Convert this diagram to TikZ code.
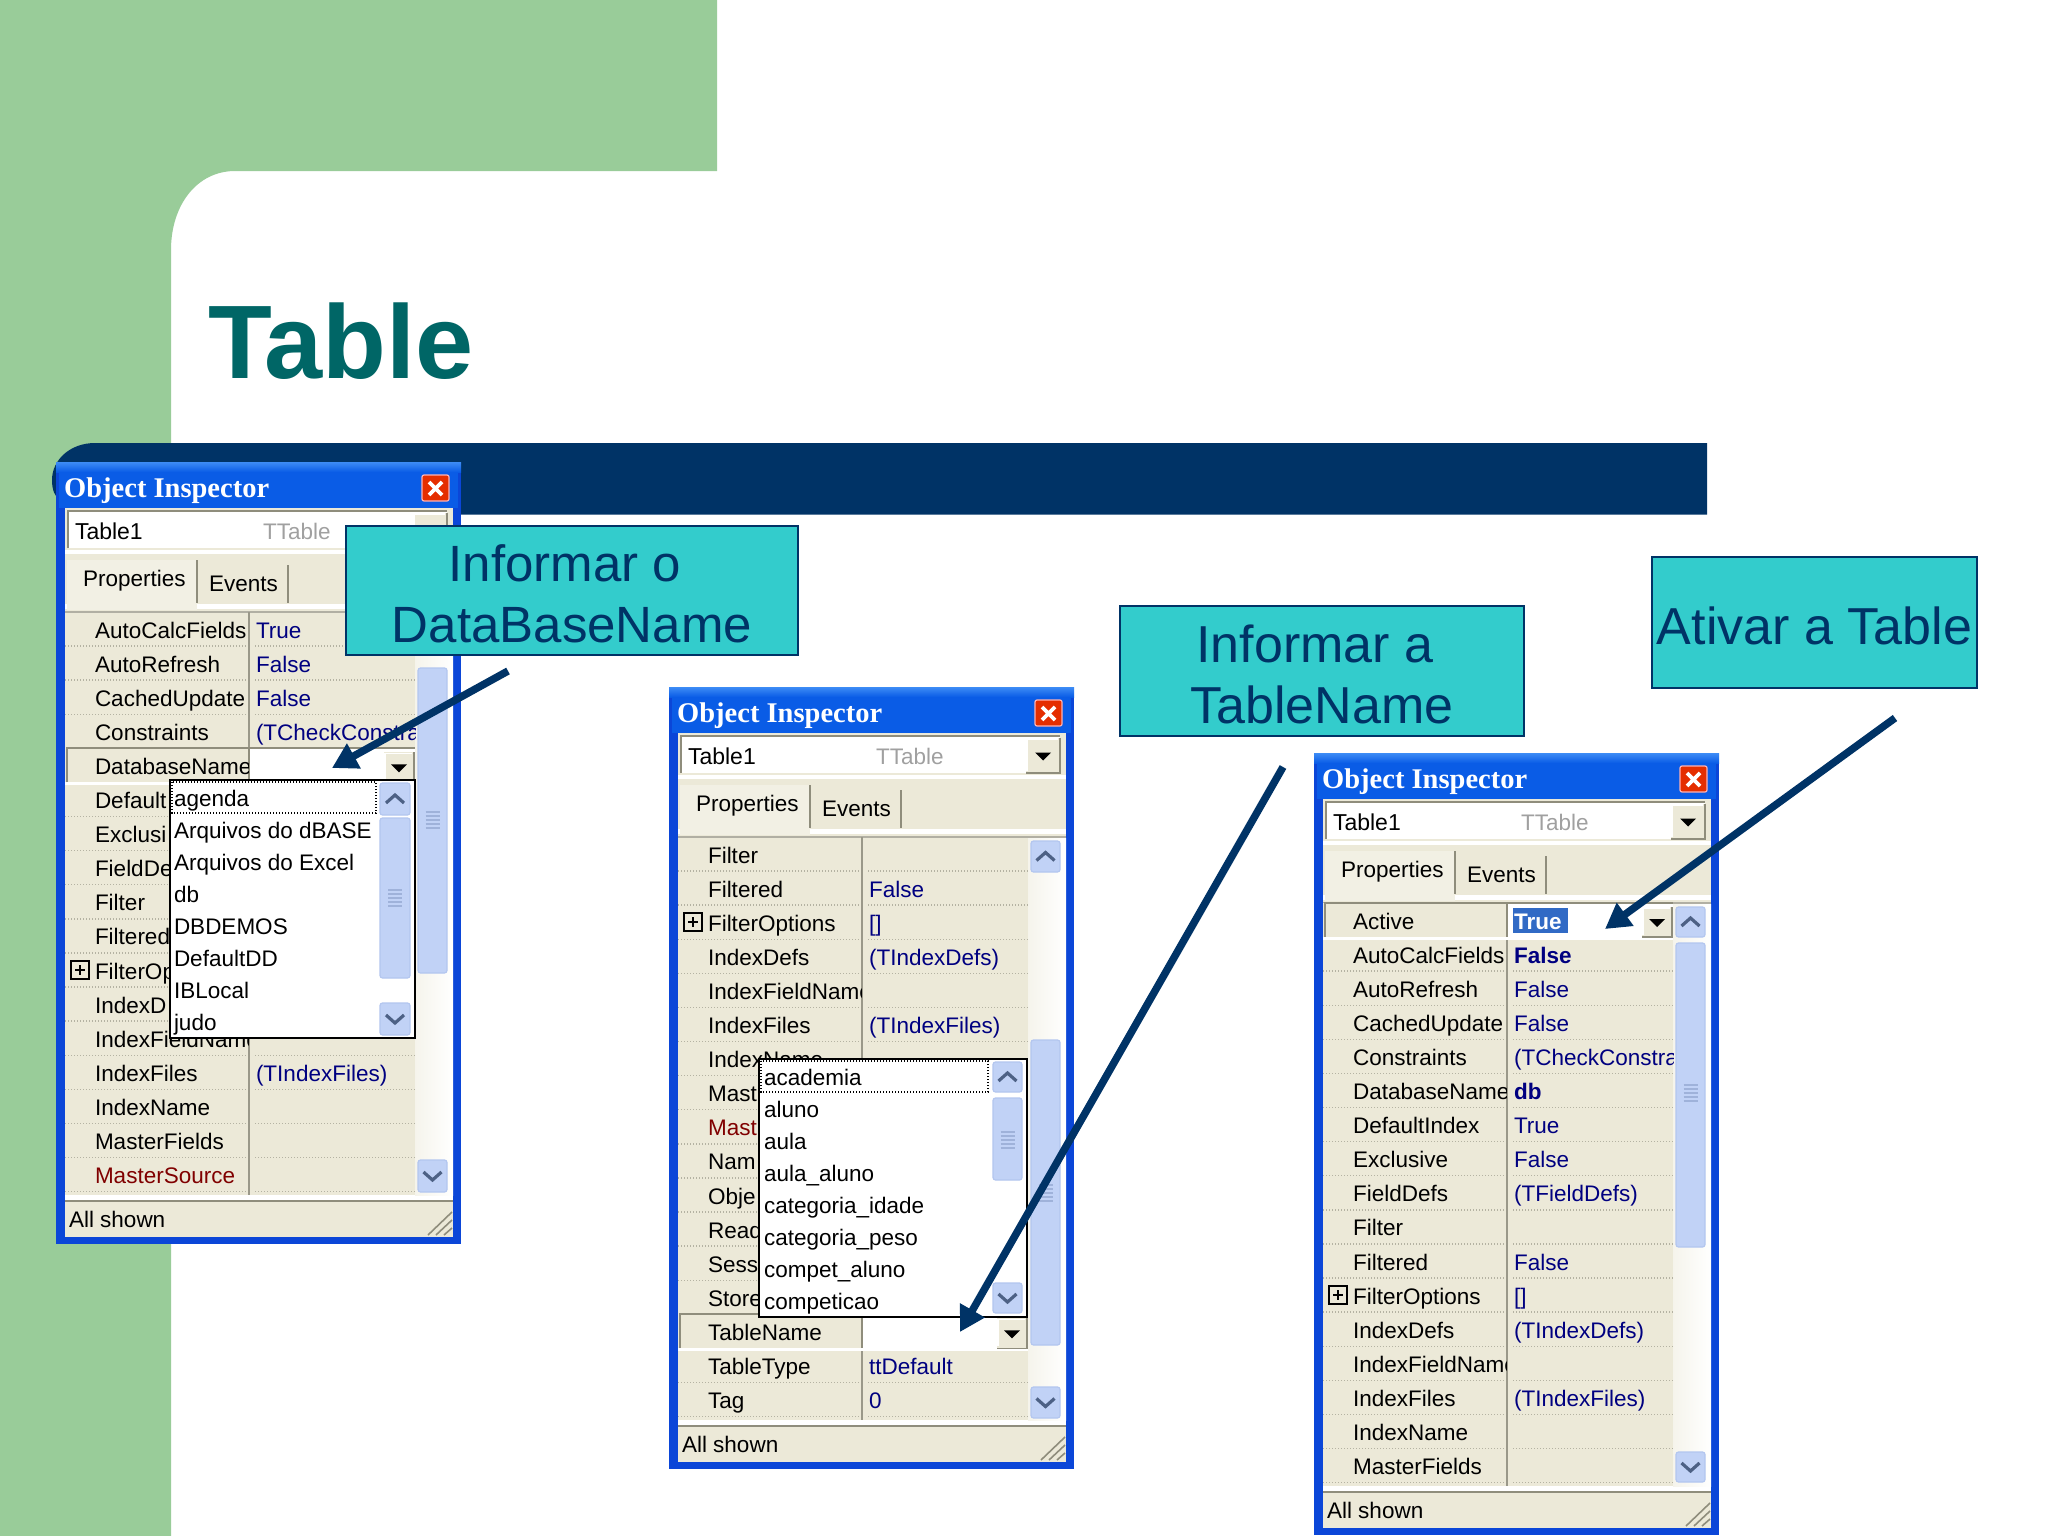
\documentclass[tikz,border=0pt]{standalone}
\usepackage{fontspec}
\setmainfont{Liberation Sans}
\newfontfamily\oiserif{Liberation Serif}
\usetikzlibrary{arrows.meta}
\definecolor{slidegreen}{HTML}{99CC99}
\definecolor{navybar}{HTML}{003366}
\definecolor{titleteal}{HTML}{006666}
\definecolor{calloutfill}{HTML}{33CCCC}
\definecolor{oibg}{HTML}{ECE9D8}
\definecolor{oiedge}{HTML}{0B46D8}
\definecolor{oidark}{HTML}{8F8D7C}
\definecolor{oidot}{HTML}{B4B2A2}
\definecolor{oival}{HTML}{000080}
\definecolor{oired}{HTML}{800000}
\definecolor{oigrey}{HTML}{A0A0A0}
\definecolor{oibtnfill}{HTML}{C1D2F6}
\definecolor{oibtnedge}{HTML}{B3C6EF}
\definecolor{oichev}{HTML}{4D6185}
\definecolor{oisel}{HTML}{316AC5}
\definecolor{oititlea}{HTML}{3D8CF5}
\definecolor{oititleb}{HTML}{0A5CE6}
\newcommand\oifont{\fontsize{22.5}{27}\selectfont}
\tikzset{
  lbl/.style={anchor=base west,inner sep=0pt,outer sep=0pt,font=\oifont},
  calloutbox/.style={draw=navybar,line width=2pt,fill=calloutfill,inner sep=0pt},
  callouttext/.style={text=navybar,align=center,inner sep=0pt,yshift=-3.3pt},
  pointer/.style={draw=navybar,line width=7.5pt,-{Triangle[length=25pt,width=27pt]}},
  dotrow/.style={oidot,line width=1.4pt,dash pattern=on 1.4pt off 1.6pt},
  dotbox/.style={black,line width=1.4pt,dash pattern=on 1.4pt off 1.6pt},
}
% button with chevron: x0 y0 x1 y1 sign
\newcommand\oibtn[5]{%
  \fill[oibtnfill,draw=oibtnedge,line width=1.2pt,rounded corners=2.5pt] (#1,#2) rectangle (#3,#4);
  \pgfmathsetmacro\cxx{(#1+#3)/2}\pgfmathsetmacro\cyy{(#2+#4)/2}%
  \draw[oichev,line width=3.2pt] (\cxx-9,\cyy+#5*4) -- (\cxx,\cyy-#5*4) -- (\cxx+9,\cyy+#5*4);
}
% thumb: x0 y0 x1 y1 grip-y
\newcommand\oithumb[5]{%
  \fill[oibtnfill,draw=oibtnedge,line width=1.2pt,rounded corners=2.5pt] (#1,#2) rectangle (#3,#4);
  \pgfmathsetmacro\cxx{(#1+#3)/2}%
  \foreach \g in {-8,-4,0,4,8}{\draw[oibtnedge!80!oichev,line width=1.2pt] (\cxx-7,#5+\g) -- (\cxx+7,#5+\g);}
}
% drop button: x0 y0 x1 y1
\newcommand\oidrop[4]{%
  \fill[oibg] (#1,#2) rectangle (#3,#4);
  \draw[oidark,line width=1.8pt] (#1,#4) -- (#3,#4) -- (#3,#2);
  \draw[white,line width=1.2pt] (#1+1,#4-2) -- (#1+1,#2+1) -- (#3-2,#2+1);
  \pgfmathsetmacro\cxx{(#1+#3)/2}\pgfmathsetmacro\cyy{(#2+#4)/2}%
  \fill[black] (\cxx-8,\cyy-3) -- (\cxx+8,\cyy-3) -- (\cxx,\cyy+5) -- cycle;
}
% window frame: prefix
\newcommand\oiframe[1]{%
  \fill[oiedge] (0,0) rectangle (405,782);
  \fill[oititleb] (3,8) rectangle (402,46);
  \shade[top color=oititlea,bottom color=oititleb] (0,0) rectangle (405,10);
  \fill[oibg] (9,46) rectangle (397,775);
  \node[anchor=base west,inner sep=0pt,text=white,font={\oiserif\bfseries\fontsize{28.5}{34}\selectfont}] (#1title) at (8,35) {Object Inspector};
  \fill[red!60!orange!90!black,draw=white!70!red,line width=1.2pt,rounded corners=2pt] (366,13) rectangle (393,39);
  \draw[white,line width=3.6pt] (373,20) -- (386,33) (386,20) -- (373,33);
  % edit box
  \fill[white] (12,49) rectangle (391,86);
  \draw[oidark,line width=2pt] (12,86) -- (12,49) -- (391,49);
  \node[lbl,font=\fontsize{23}{27}\selectfont] (#1obj) at (19,77) {Table1};
  \node[lbl,text=oigrey] (#1cls) at (207,77) {TTable};
  \oidrop{357}{51}{391}{86}
  % tabs
  \fill[white] (9,88) rectangle (397,92);
  \fill[white] (9,142) rectangle (397,147);
  \fill[oibg!70!white] (11,98) rectangle (141,148);
  \draw[oidark,line width=2.6pt] (141,98) -- (141,141);
  \draw[oidark,line width=2.6pt] (232,103) -- (232,141);
  \node[lbl] (#1tabp) at (27,124.5) {Properties};
  \node[lbl] (#1tabe) at (153,129) {Events};
  % grid
  \draw[oidark!70,line width=1.2pt] (9,150) -- (397,150);
  \foreach \r in {0,...,16}{%
    \draw[dotrow] (9,{184+34.1*\r}) -- (192,{184+34.1*\r});
    \draw[dotrow] (199,{184+34.1*\r}) -- (359,{184+34.1*\r});
  }
  \draw[oidark!90,line width=2pt] (193,150) -- (193,733);
  % status
  \fill[white] (9,733) rectangle (397,738);
  \draw[oidark,line width=1.6pt] (9,739) -- (397,739);
  \node[lbl] (#1stat) at (13,765) {All shown};
  \draw[oidark,line width=1.6pt] (372,773) -- (396,750) (380,773) -- (396,758) (388,773) -- (396,766);
  % track of the scroll bar
  \shade[left color=oibg!50!white,right color=white] (359,151) rectangle (397,733);
}
\newcommand\oinames[2]{%
  \begin{scope}
    \clip (9,150) rectangle (192,733);
    \foreach \nm [count=\i from 0] in {#2}{%
      \node[lbl] (#1n\i) at (39,{176+34.1*\i}) {\nm};
    }
  \end{scope}
}
\newcommand\oivals[2]{%
  \begin{scope}
    \clip (195,150) rectangle (359,733);
    \foreach \i/\v in {#2}{%
      \node[lbl,text=oival] (#1v\i) at (200,{176+34.1*\i}) {\v};
    }
  \end{scope}
}
\newcommand\oiplus[1]{%
  \pgfmathsetmacro\pcy{167+34.1*#1}%
  \draw[black,line width=1.8pt] (15,\pcy-9) rectangle (33,\pcy+9);
  \draw[black,line width=1.8pt] (19,\pcy) -- (29,\pcy) (24,\pcy-5) -- (24,\pcy+5);
}
\newcommand\oiselrow[1]{%
  \pgfmathsetmacro\sya{150+34.1*#1}\pgfmathsetmacro\syb{184+34.1*#1}%
  \fill[oibg] (9,\sya) rectangle (359,\syb);
  \fill[white] (194,\sya) rectangle (359,\syb);
  \fill[white] (9,\syb) rectangle (359,\syb+3);
  \draw[oidark,line width=2pt] (11,\syb) -- (11,\sya) -- (359,\sya);
  \draw[oidark,line width=1.6pt] (193,\sya) -- (193,\syb);
  \oidrop{328}{\sya+4}{358}{\syb}
}
\newcommand\oipop[4]{%
  \fill[white,draw=black,line width=2pt] (#1,#2) rectangle (#3,#4);
}
\newcommand\oiitems[4]{%
  \foreach \nm [count=\i from 0] in {#4}{%
    \node[lbl] (#1p\i) at (#2,{#3+32*\i}) {\nm};
  }
}
\begin{document}
\begin{tikzpicture}[x=1pt,y=-1pt]
\useasboundingbox (0,0) rectangle (2048,1536);
\fill[white] (0,0) rectangle (2048,1536);
% slide background
\fill[slidegreen] (0,0) -- (717,0) -- (717,171) -- (235,171) .. controls (197,171) and (171,205) .. (171,250) -- (171,1536) -- (0,1536) -- cycle;
\fill[navybar] (1707,443) -- (95,443) .. controls (70,443) and (52,460) .. (52,480) .. controls (52,490) and (55,497) .. (60,500) -- (60,514.5) -- (1707,514.5) -- cycle;
\node[anchor=base west,inner sep=0pt,text=titleteal,font={\bfseries\fontsize{104.5}{112}\selectfont}] (slidetitle) at (208,378) {Table};

% ---------- window 1
\begin{scope}[shift={(56,462)}]
  \oiframe{a}
  \oiselrow{4}
  \oinames{a}{AutoCalcFields,AutoRefresh,CachedUpdate,Constraints,DatabaseName,Default,Exclusi,FieldDe,Filter,Filtered,FilterOp,IndexD,IndexFieldName,IndexFiles,IndexName,MasterFields,\textcolor{oired}{MasterSource}}
  \oivals{a}{0/True,1/False,2/False,3/(TCheckConstra,13/(TIndexFiles)}
  \oiplus{10}
  \oithumb{362}{206}{391}{511}{358}
  \oibtn{362}{698}{391}{730}{-1}
  \oipop{114}{318}{359}{576}
  \draw[dotbox] (116,320) rectangle (320,351);
  \oiitems{a}{118}{344}{agenda,Arquivos do dBASE,Arquivos do Excel,db,DBDEMOS,DefaultDD,IBLocal,judo}
  \oibtn{324}{321}{354}{353}{1}
  \oithumb{324}{356}{354}{516}{436}
  \oibtn{324}{541}{354}{573}{-1}
\end{scope}

% ---------- window 2
\begin{scope}[shift={(669,687)}]
  \oiframe{b}
  \oiselrow{14}
  \oinames{b}{Filter,Filtered,FilterOptions,IndexDefs,IndexFieldName,IndexFiles,IndexName,Mast,\textcolor{oired}{Mast},Nam,Obje,Read,Sess,Store,TableName,TableType,Tag}
  \oivals{b}{1/False,2/{[]},3/(TIndexDefs),5/(TIndexFiles),15/ttDefault,16/0}
  \oiplus{2}
  \oibtn{362}{154}{391}{185}{1}
  \oithumb{362}{353}{391}{658}{506}
  \oibtn{362}{700}{391}{731}{-1}
  \oipop{90}{372}{358}{630}
  \draw[dotbox] (92,374) rectangle (319,405);
  \oiitems{b}{95}{398}{academia,aluno,aula,aula\_aluno,categoria\_idade,categoria\_peso,compet\_aluno,competicao}
  \oibtn{324}{375}{353}{405}{1}
  \oithumb{324}{411}{353}{493}{453}
  \oibtn{324}{596}{353}{626}{-1}
\end{scope}

% ---------- window 3
\begin{scope}[shift={(1314,753)}]
  \oiframe{c}
  \oiselrow{0}
  \fill[oisel] (199,155) rectangle (254,180);
  \oinames{c}{Active,AutoCalcFields,AutoRefresh,CachedUpdate,Constraints,DatabaseName,DefaultIndex,Exclusive,FieldDefs,Filter,Filtered,FilterOptions,IndexDefs,IndexFieldName,IndexFiles,IndexName,MasterFields}
  \node[lbl,text=white,font=\oifont\bfseries] (cv0) at (200,176) {True};
  \oivals{c}{1/\textbf{False},2/False,3/False,4/(TCheckConstra,5/\textbf{db},6/True,7/False,8/(TFieldDefs),10/False,11/{[]},12/(TIndexDefs),14/(TIndexFiles)}
  \oiplus{11}
  \oibtn{362}{154}{391}{184}{1}
  \oithumb{362}{190}{391}{494}{340}
  \oibtn{362}{699}{391}{729}{-1}
\end{scope}

% ---------- callouts
\node[calloutbox,minimum width=452pt,minimum height=129pt] (callA) at (572,590.5) {};
\node[callouttext,font=\fontsize{51}{61.5}\selectfont] (callAtext) at (callA.center) {Informar o~\hspace*{0pt}\\DataBaseName};
\node[calloutbox,minimum width=404pt,minimum height=130pt] (callB) at (1322,671) {};
\node[callouttext,font=\fontsize{52}{61.5}\selectfont] (callBtext) at (callB.center) {Informar a~\hspace*{0pt}\\TableName};
\node[calloutbox,minimum width=325pt,minimum height=131pt] (callC) at (1814.5,622.5) {};
\node[callouttext,font=\fontsize{52}{61.5}\selectfont] (callCtext) at (callC.center) {Ativar a Table};

% ---------- pointers
\coordinate (fromA) at (508,671);
\coordinate (toA) at (332,768);
\coordinate (fromB) at (1283,767);
\coordinate (toB) at (960,1332);
\coordinate (fromC) at (1895,718);
\coordinate (toC) at (1605,929);
\draw[pointer] (fromA) -- (toA);
\draw[pointer] (fromB) -- (toB);
\draw[pointer] (fromC) -- (toC);
\end{tikzpicture}
\end{document}
